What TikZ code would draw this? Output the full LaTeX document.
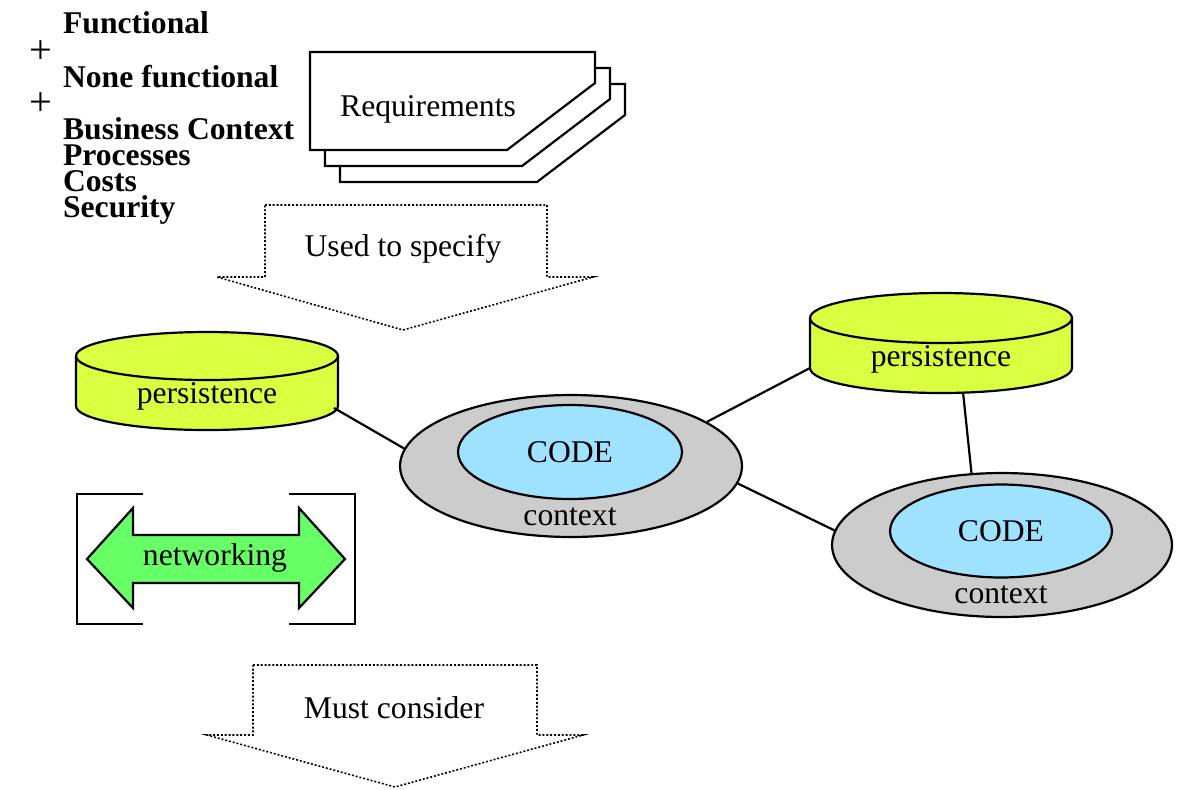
\documentclass[tikz,border=0pt]{standalone}
\usepackage{fontspec}
\setmainfont{Liberation Serif}
\usetikzlibrary{shapes.geometric}
\definecolor{persfill}{RGB}{217,255,64}
\definecolor{codefill}{RGB}{158,226,255}
\definecolor{ctxfill}{RGB}{204,204,204}
\definecolor{netfill}{RGB}{102,255,102}

\begin{document}
\begin{tikzpicture}[x=0.02cm,y=0.02cm,line width=1.25pt,
  every node/.style={font=\fontsize{18}{20}\selectfont,inner sep=0pt},
  reqitem/.style={anchor=base west,font=\fontsize{18}{20}\selectfont\bfseries},
  plus/.style={anchor=base west,font=\fontsize{23}{24}\selectfont},
  label/.style={anchor=base},
  page/.style={draw,fill=white},
  flow/.style={draw,dash pattern=on 1.1pt off 1.1pt,line width=0.9pt},
  store/.style={draw,fill=persfill},
  ctx/.style={ellipse,draw,fill=ctxfill},
  code/.style={ellipse,draw,fill=codefill}]
\useasboundingbox (0,0) rectangle (1183,-789);

\node[reqitem] (fun) at (62,-33) {Functional};
\node[plus] (plusA) at (28,-63) {+};
\node[reqitem] (nonfun) at (62,-87) {None functional};
\node[plus] (plusB) at (28,-115) {+};
\node[reqitem,align=left,font=\fontsize{18}{14.7}\selectfont\bfseries] (bus) at (62,-217) {Business Context\\Processes\\Costs\\Security};

\foreach \d in {2,1}
  \draw[page,shift={(15*\d,-16*\d)}] (310,-52) -- (595,-52) -- (595,-83) -- (507,-150) -- (310,-150) -- cycle;
\draw[page] (310,-52) -- (595,-52) -- (595,-83) -- (507,-150) -- (310,-150) -- cycle;
\node[label] (req) at (428,-116) {Requirements};

\draw[flow] (265,-205) -- (547,-205) -- (547,-277) -- (593,-277) -- (403,-330) -- (217,-277) -- (265,-277) -- cycle;
\node[label] (spec) at (403,-256) {Used to specify};

\path[store] (76,-356) -- (76,-406) arc[start angle=180,end angle=360,x radius=131,y radius=24] -- (338,-356) arc[start angle=0,end angle=180,x radius=131,y radius=24] -- cycle;
\draw (76,-356) arc[start angle=180,end angle=360,x radius=131,y radius=24];
\node[label] (persA) at (207,-403) {persistence};
\coordinate (persAout) at (334,-408);

\path[store] (810,-318) -- (810,-368) arc[start angle=180,end angle=360,x radius=131,y radius=25] -- (1072,-318) arc[start angle=0,end angle=180,x radius=131,y radius=25] -- cycle;
\draw (810,-318) arc[start angle=180,end angle=360,x radius=131,y radius=25];
\node[label] (persB) at (941,-366) {persistence};
\coordinate (persBin) at (810,-368);
\coordinate (persBout) at (963,-392);

\node[ctx,minimum width=6.84cm,minimum height=2.84cm] (ctxA) at (571,-466) {};
\node[code,minimum width=4.48cm,minimum height=1.88cm] (codeA) at (570,-452) {CODE};
\node[label] (ctxAtxt) at (570,-525) {context};

\node[ctx,minimum width=6.8cm,minimum height=2.88cm] (ctxB) at (1002,-545) {};
\node[code,minimum width=4.44cm,minimum height=1.86cm] (codeB) at (1001,-531) {CODE};
\node[label] (ctxBtxt) at (1001,-603) {context};

\draw (persAout) -- (ctxA.174);
\draw (ctxA.18) -- (persBin);
\draw (ctxA.-6) -- (ctxB.175);
\draw (persBout) -- (ctxB.113);

\draw (143,-494) -- (77,-494) -- (77,-624) -- (143,-624);
\draw (289,-494) -- (355,-494) -- (355,-624) -- (289,-624);
\draw[fill=netfill] (87,-559) -- (133,-508) -- (133,-535) -- (299,-535) -- (299,-508) -- (345,-559) -- (299,-608) -- (299,-583) -- (133,-583) -- (133,-608) -- cycle;
\node[label] (net) at (215,-565) {networking};

\draw[flow] (253,-665) -- (537,-665) -- (537,-735) -- (583,-735) -- (395,-787) -- (207,-735) -- (253,-735) -- cycle;
\node[label] (must) at (394,-718) {Must consider};
\end{tikzpicture}
\end{document}
